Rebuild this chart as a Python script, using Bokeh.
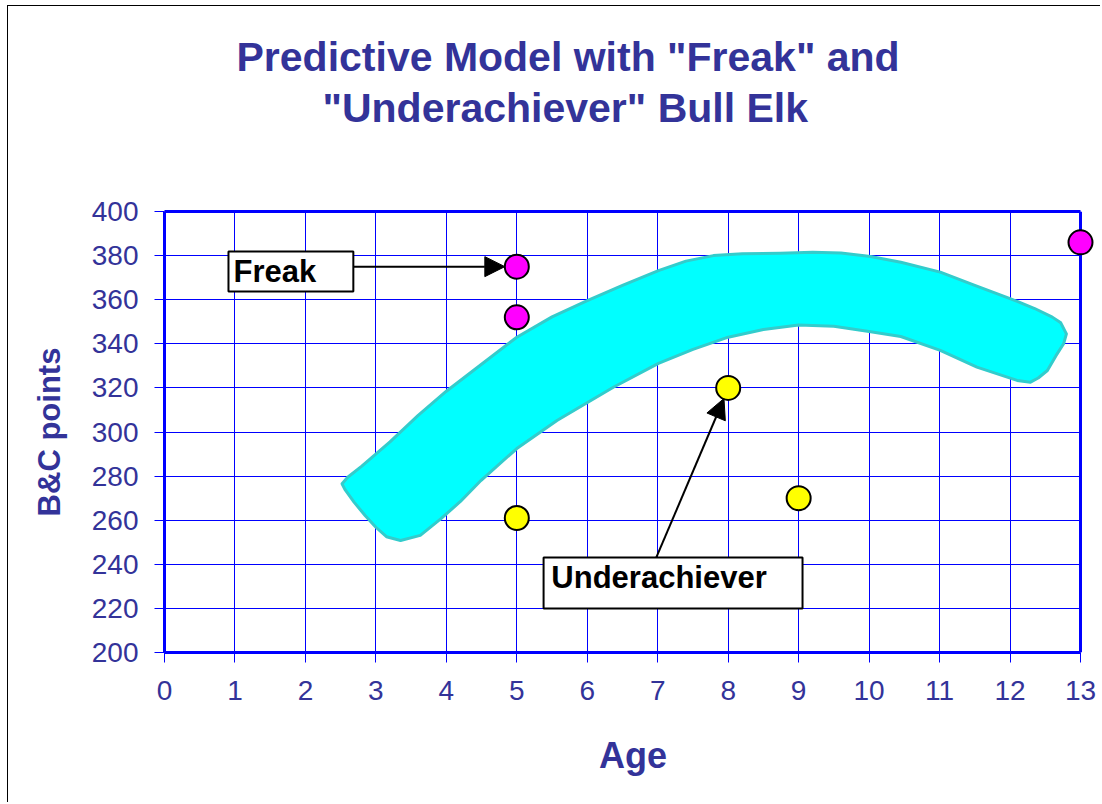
from bokeh.plotting import figure
from bokeh.models import (Range1d, FixedTicker, LinearAxis, Span, BoxAnnotation,
                          Label, Arrow, NormalHead, Title)
from bokeh.embed import file_html
from bokeh.resources import INLINE

# ---------------- data ----------------
title_lines = ['Predictive Model with "Freak" and', '"Underachiever" Bull Elk']
x_label = "Age"
y_label = "B&C points"
x_ticks = list(range(0, 14))
y_ticks = list(range(200, 401, 20))

freak_age = [5, 5, 13]
freak_score = [375, 352, 386]
under_age = [5, 8, 9]
under_score = [261, 320, 270]

# outline of the hand-drawn "predictive model" band
band_upper_x = [2.52, 2.60, 2.80, 3.2, 3.6, 4.0, 4.49, 5.0, 5.5, 6.0, 6.5, 7.01, 7.4,
                7.79, 8.2, 8.74, 9.2, 9.6, 10.02, 10.45, 11.01, 11.5, 12.01, 12.35, 12.60,
                12.72, 12.80, 12.76, 12.65, 12.53, 12.40, 12.29, 12.10]
band_upper_y = [276.5, 279.5, 284.5, 295.5, 307.5, 318.5, 330.5, 343.0, 352.2, 359.6, 366.5,
                373.2, 377.5, 380.0, 380.8, 381.1, 381.5, 381.2, 379.6, 377.0, 372.5, 366.5,
                360.4, 356.0, 352.1, 349.5, 344.5, 340.0, 334.5, 327.9, 324.5, 322.6, 323.4]
band_lower_x = [11.53, 11.01, 10.45, 10.0, 9.5, 9.0, 8.5, 8.0, 7.5, 7.01, 6.37, 5.57, 5.0,
                4.49, 4.2, 3.92, 3.63, 3.35, 3.15, 3.0, 2.85, 2.69, 2.56]
band_lower_y = [329.4, 337.0, 343.3, 345.6, 348.0, 348.5, 346.5, 343.0, 337.5, 331.1, 320.3,
                305.2, 292.5, 278.0, 268.5, 260.6, 253.1, 250.8, 252.5, 256.8, 262.0, 268.2,
                274.0]

# ---------------- styles ----------------
TXT = "#333399"
BLUE = "#0000FF"
FONT = "Liberation Sans"

p = figure(width=1093, height=797, output_backend="svg", toolbar_location=None,
           x_range=Range1d(0, 13.298), y_range=Range1d(200, 400),
           min_border_left=156, min_border_right=0, min_border_top=205,
           min_border_bottom=151, outline_line_color=None, title=None)
p.margin = (6, 0, 0, 8)
p.styles = {"box-shadow": "-1px -1px 0 0 black"}
p.background_fill_color = "white"
p.border_fill_color = "white"

# axes
xa = p.xaxis[0]
xa.ticker = FixedTicker(ticks=x_ticks)
xa.bounds = (0, 13)
ya = p.yaxis[0]
ya.ticker = FixedTicker(ticks=y_ticks)
for ax in (xa, ya):
    ax.axis_line_color = BLUE
    ax.axis_line_width = 3
    ax.major_tick_line_color = BLUE
    ax.major_tick_line_width = 1
    ax.major_tick_in = 0
    ax.major_tick_out = 10
    ax.minor_tick_line_color = None
    ax.major_label_text_font = FONT
    ax.major_label_text_font_size = "28px"
    ax.major_label_text_color = TXT
    ax.axis_label_text_font = FONT
    ax.axis_label_text_font_style = "bold"
    ax.axis_label_text_color = TXT
xa.axis_label = x_label
xa.axis_label_text_font_size = "36px"
xa.major_label_standoff = 18
xa.axis_label_standoff = 32
ya.axis_label = y_label
ya.axis_label_text_font_size = "31px"
ya.major_label_standoff = 16
ya.axis_label_standoff = 22

# top frame edge
top_axis = LinearAxis(bounds=(0, 13), ticker=FixedTicker(ticks=[]), axis_line_color=BLUE,
                      axis_line_width=3, major_tick_line_color=None, major_tick_out=78,
                      minor_tick_line_color=None, major_label_text_font_size="0px")
p.add_layout(top_axis, "above")

# blank spacer between plot and title
p.add_layout(Title(text=" ", standoff=30, text_font=FONT, text_font_size="41px"), "above")

# title: two lines, the second one closest to the plot
title_offsets = [72, 158]
title_standoffs = [0, 6]
for i in (1, 0):
    p.add_layout(Title(text=title_lines[i], align="left", offset=title_offsets[i],
                       standoff=title_standoffs[i], text_font=FONT,
                       text_font_style="bold", text_font_size="41px",
                       text_color=TXT), "above")

p.xgrid.ticker = FixedTicker(ticks=x_ticks)
p.ygrid.ticker = FixedTicker(ticks=y_ticks)
for g in (p.xgrid[0], p.ygrid[0]):
    g.grid_line_color = BLUE
    g.grid_line_width = 1

# mask grid beyond x=13, then right frame edge
p.add_layout(BoxAnnotation(left=13, fill_color="white", fill_alpha=1, line_color=None,
                           level="underlay"), "center")
p.add_layout(Span(location=13, dimension="height", line_color=BLUE, line_width=3,
                  level="underlay"), "center")

# band
p.patch(band_upper_x + band_lower_x, band_upper_y + band_lower_y,
        fill_color="#00FFFF", line_color="#33CCCC", line_width=3, line_join="round")

# points
p.scatter(freak_age, freak_score, size=24, fill_color="#FF00FF", line_color="black",
          line_width=2)
p.scatter(under_age, under_score, size=24, fill_color="#FFFF00", line_color="black",
          line_width=2)

# callouts
head = dict(size=20, fill_color="black", line_color="black")
p.add_layout(Arrow(end=NormalHead(**head), x_start=2.68, y_start=375,
                   x_end=freak_age[0] - 0.17, y_end=freak_score[0],
                   line_color="black", line_width=2))
p.add_layout(Arrow(end=NormalHead(**head), x_start=6.98, y_start=243.1,
                   x_end=7.94, y_end=315.2, line_color="black", line_width=2))

box_style = dict(fill_color="white", fill_alpha=1, line_color="black", line_alpha=1,
                 line_width=2)
p.add_layout(BoxAnnotation(left=0.908, right=2.68, top=381.9, bottom=363.7, **box_style))
p.add_layout(BoxAnnotation(left=5.38, right=9.055, top=243.1, bottom=220.0, **box_style))
p.add_layout(Label(x=0.98, y=372.6, text="Freak", text_font=FONT, text_font_style="bold",
                   text_font_size="31px", text_color="black", text_baseline="alphabetic"))
p.add_layout(Label(x=5.49, y=234.0, text="Underachiever", text_font=FONT,
                   text_font_style="bold", text_font_size="31px", text_color="black",
                   text_baseline="alphabetic"))

open("out.html", "w").write(file_html(p, INLINE))
